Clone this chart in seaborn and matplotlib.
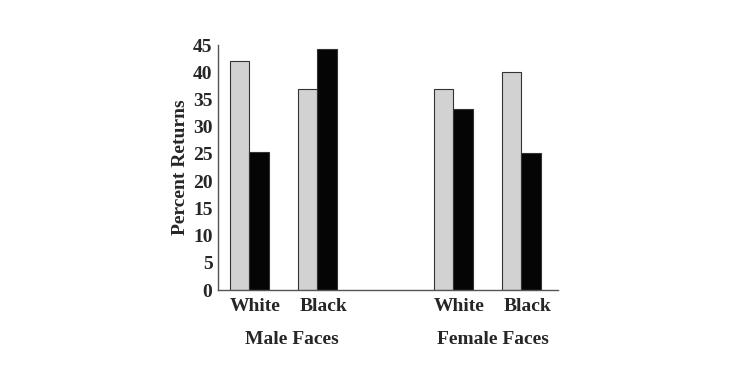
import pandas as pd
import numpy as np
import matplotlib.pyplot as plt
import seaborn as sns

# Percent returns
positions = [0, 1, 3, 4]
face_race = ['White', 'Black', 'White', 'Black']
gray_values = [42, 37, 37, 40]
black_values = [25.3, 44.3, 33.2, 25.2]
group_labels = ['Male Faces', 'Female Faces']

df = pd.DataFrame({
    'pos': positions * 2,
    'value': gray_values + black_values,
    'series': ['gray'] * 4 + ['black'] * 4,
})

sns.set_style('white')
plt.rcParams['font.family'] = ['Liberation Serif', 'DejaVu Serif']
plt.rcParams['font.weight'] = 'bold'

fig = plt.figure(figsize=(7.5, 3.87), dpi=100)
ax = fig.add_axes([0.2907, 0.2506, 0.4533, 0.6331])

sns.barplot(data=df, x='pos', y='value', hue='series', native_scale=True,
            palette={'gray': '#d2d2d2', 'black': '#050505'}, width=0.58,
            edgecolor='#333333', linewidth=0.8, legend=False, ax=ax)

ax.set_xlim(-0.46, 4.54)
ax.set_ylim(0, 45)
ax.set_yticks(range(0, 46, 5))
# labels in the original sit a little right of the bar pairs
ax.set_xticks([p + 0.09 for p in positions])
ax.set_xticklabels(face_race)
ax.tick_params(axis='y', length=0, labelsize=14, pad=4)
ax.tick_params(axis='x', length=0, labelsize=14, pad=6)
for lbl in ax.get_xticklabels() + ax.get_yticklabels():
    lbl.set_fontweight('bold')
ax.set_xlabel('')
ax.set_ylabel('Percent Returns', fontsize=14, fontweight='bold', labelpad=3)

for side in ['top', 'right']:
    ax.spines[side].set_visible(False)
for side in ['left', 'bottom']:
    ax.spines[side].set_color('#555555')
    ax.spines[side].set_linewidth(1.0)

# group labels under the tick labels
for center, name in zip([0.63, 3.59], group_labels):
    ax.text(center, -0.2, name, transform=ax.get_xaxis_transform(),
            ha='center', va='center', fontsize=14, fontweight='bold')

fig.savefig('out.png', dpi=100)
